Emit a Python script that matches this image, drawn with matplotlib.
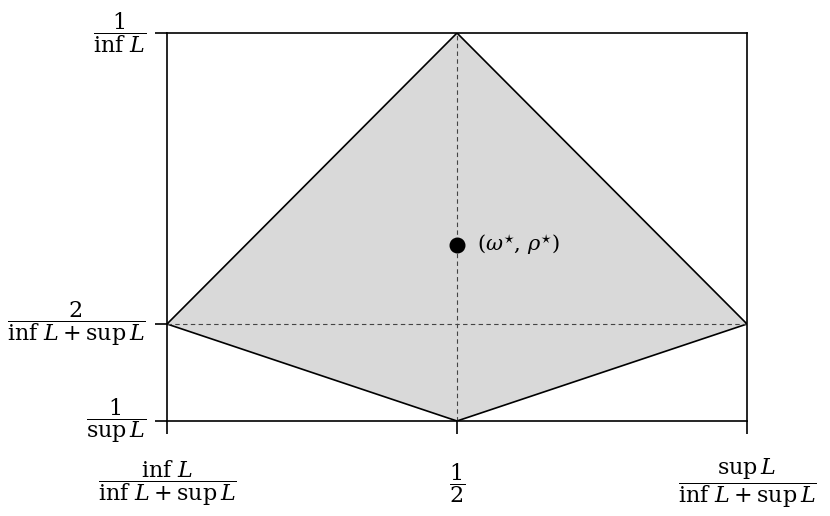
import matplotlib.pyplot as plt

plt.rcParams['mathtext.fontset'] = 'dejavuserif'
plt.rcParams['font.family'] = 'DejaVu Serif'

# values of inf L and sup L used to place the region
inf_L = 1.0
sup_L = 3.0

x_ticks = [inf_L / (inf_L + sup_L), 0.5, sup_L / (inf_L + sup_L)]
y_ticks = [1 / sup_L, 2 / (inf_L + sup_L), 1 / inf_L]
x_labels = [r'$\dfrac{\inf\,L}{\inf\,L+\sup\,L}$', r'$\dfrac{1}{2}$',
            r'$\dfrac{\sup\,L}{\inf\,L+\sup\,L}$']
y_labels = [r'$\dfrac{1}{\sup\,L}$', r'$\dfrac{2}{\inf\,L+\sup\,L}$', r'$\dfrac{1}{\inf\,L}$']

# kite: left, top, right, bottom
kite_x = [x_ticks[0], x_ticks[1], x_ticks[2], x_ticks[1]]
kite_y = [y_ticks[1], y_ticks[2], y_ticks[1], y_ticks[0]]

omega_star = 0.5
rho_star = 0.636

fig = plt.figure(figsize=(8.3, 5.16), dpi=100)
ax = fig.add_axes([167 / 830, 1 - 421 / 516, (747 - 167) / 830, (421 - 33) / 516])

ax.fill(kite_x, kite_y, facecolor='#d9d9d9', edgecolor='black', linewidth=1.2, zorder=1)
ax.plot([x_ticks[1], x_ticks[1]], [y_ticks[0], y_ticks[2]], color='#444444',
        linestyle=(0, (4, 3)), linewidth=0.8, zorder=2)
ax.plot([x_ticks[0], x_ticks[2]], [y_ticks[1], y_ticks[1]], color='#444444',
        linestyle=(0, (4, 3)), linewidth=0.8, zorder=2)

ax.plot(omega_star, rho_star, 'o', color='black', markersize=10.5, zorder=3)
ax.text(omega_star + 0.017, rho_star, r'$(\omega^{\star},\,\rho^{\star})$', fontsize=15,
        ha='left', va='center')

ax.set_xlim(x_ticks[0], x_ticks[2])
ax.set_ylim(y_ticks[0], y_ticks[2])
ax.set_xticks(x_ticks)
ax.set_xticklabels(x_labels, fontsize=16)
ax.set_yticks(y_ticks)
ax.set_yticklabels(y_labels, fontsize=16)
for lab in ax.get_xticklabels():
    lab.set_va('center')
for lab in ax.get_yticklabels():
    lab.set_va('center')

ax.tick_params(axis='x', length=9, width=1.2, pad=36)
ax.tick_params(axis='y', length=9, width=1.2, pad=6)
for sp in ax.spines.values():
    sp.set_linewidth(1.2)

fig.savefig('out.png', dpi=100)
